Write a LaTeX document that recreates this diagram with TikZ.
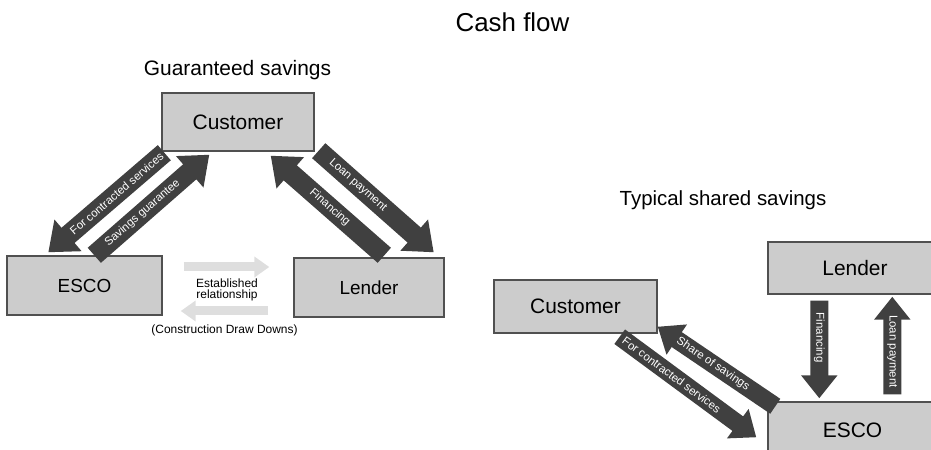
\documentclass[tikz,border=0pt]{standalone}
\usepackage{fontspec}
\setmainfont{Liberation Sans}
\usepackage{xcolor}
\usepackage{tikz}
\usetikzlibrary{arrows.meta,positioning,calc}
\definecolor{boxbg}{HTML}{CCCCCC}
\definecolor{boxbd}{HTML}{505050}
\definecolor{flowdk}{HTML}{404040}
\definecolor{flowlt}{HTML}{DEDEDE}
\tikzset{
  party/.style={draw=boxbd,fill=boxbg,line width=1.4bp,inner sep=0pt},
  flowbig/.style={flowdk,line width=20bp,-{Triangle[length=26bp,width=40bp]}},
  flowsmall/.style={flowdk,line width=18bp,-{Triangle[length=23bp,width=35bp]}},
  flowlight/.style={flowlt,line width=9bp,-{Triangle[length=15bp,width=20bp]}},
  flowlabel/.style={text=white,font=\fontsize{11.5}{12}\selectfont,inner sep=0pt},
}

\begin{document}
\begin{tikzpicture}[x=1bp,y=-1bp]
  \clip (0,0) rectangle (931,450);
  \node[font=\fontsize{26}{30}\selectfont,anchor=base](title)at(512.5,32){Cash flow};

  % Guaranteed savings
  \node[font=\fontsize{21}{24}\selectfont,anchor=base](gtitle)at(237.5,76){Guaranteed savings};
  \node[party,minimum width=152bp,minimum height=58bp,
        font=\fontsize{21}{24}\selectfont](gcust)at(238,122){Customer};
  \node[party,minimum width=155bp,minimum height=59bp,
        font=\fontsize{19}{22}\selectfont](gesco)at(84.5,285.5){ESCO};
  \node[party,minimum width=150bp,minimum height=59bp,
        font=\fontsize{19}{22}\selectfont](glend)at(369,287.5){Lender};
  \node[align=center,font=\fontsize{12}{11.5}\selectfont,inner sep=0pt](estab)
    at(227,290){Established\\relationship};
  \node[font=\fontsize{12}{14}\selectfont,anchor=base](draws)
    at(224.5,334){(Construction Draw Downs)};

  \draw[flowlight]($(gesco.east)+(21,-18.5)$)--($(glend.west)+(-24,-20.5)$);
  \draw[flowlight]($(glend.west)+(-25,23.5)$)--($(gesco.east)+(18,25.5)$);

  \draw[flowbig]($(gcust.south west)+(3,1)$)--($(gesco.north west)+(42,-3)$)
    node[flowlabel,sloped,pos=0.41]{For contracted services};
  \draw[flowbig]($(gesco.north west)+(88,0)$)--($(gcust.south west)+(48,3)$)
    node[flowlabel,sloped,pos=0.42]{Savings guarantee};
  \draw[flowbig]($(glend.north west)+(91,-2)$)--($(gcust.south east)+(-44,4)$)
    node[flowlabel,sloped,pos=0.48]{Financing};
  \draw[flowbig]($(gcust.south east)+(4,-1)$)--($(glend.north east)+(-11,-5)$)
    node[flowlabel,sloped,pos=0.34]{Loan payment};

  % Typical shared savings
  \node[font=\fontsize{20.5}{24}\selectfont,anchor=base](stitle)at(723,206){Typical shared savings};
  \node[party,minimum width=163bp,minimum height=53bp,
        font=\fontsize{21}{24}\selectfont](scust)at(575.5,306.5){Customer};
  \node[party,minimum width=174bp,minimum height=52bp,
        font=\fontsize{21}{24}\selectfont](slend)at(855,268){Lender};
  \node[party,minimum width=169bp,minimum height=56bp,
        font=\fontsize{21}{24}\selectfont](sesco)at(852.5,430){ESCO};

  \draw[flowsmall]($(sesco.north west)+(8,5)$)--($(scust.south east)+(0,-7)$)
    node[flowlabel,sloped,pos=0.53]{Share of savings};
  \draw[flowsmall]($(scust.south east)+(-38,3)$)--($(sesco.north west)+(-11,36)$)
    node[flowlabel,sloped,pos=0.38]{For contracted services};
  \draw[flowsmall]($(slend.south west)+(52,6)$)--($(sesco.north west)+(52,-3)$)
    node[flowlabel,sloped,pos=0.38]{Financing};
  \draw[flowsmall]($(sesco.north west)+(125,-7)$)--($(slend.south west)+(125,2)$)
    node[flowlabel,rotate=-90,pos=0.44]{Loan payment};
\end{tikzpicture}
\end{document}
